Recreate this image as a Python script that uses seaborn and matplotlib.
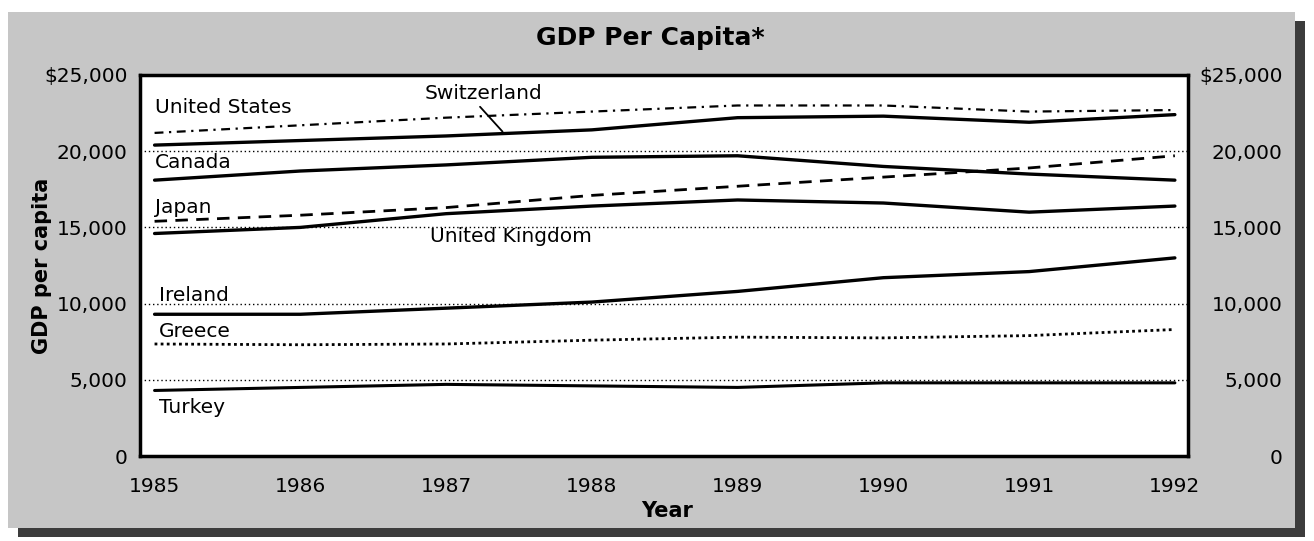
import seaborn as sns
import matplotlib.pyplot as plt
import pandas as pd
from matplotlib.patches import Rectangle

sns.set_theme(style="white")
plt.rcParams['font.family'] = ['DejaVu Sans']
plt.rcParams['text.color'] = 'black'
plt.rcParams['axes.labelcolor'] = 'black'
plt.rcParams['xtick.color'] = 'black'
plt.rcParams['ytick.color'] = 'black'

years = [1985, 1986, 1987, 1988, 1989, 1990, 1991, 1992]
united_states = [21200, 21700, 22200, 22600, 23000, 23000, 22600, 22700]
switzerland = [20400, 20700, 21000, 21400, 22200, 22300, 21900, 22400]
canada = [18100, 18700, 19100, 19600, 19700, 19000, 18500, 18100]
japan = [15400, 15800, 16300, 17100, 17700, 18300, 18900, 19700]
united_kingdom = [14600, 15000, 15900, 16400, 16800, 16600, 16000, 16400]
ireland = [9300, 9300, 9700, 10100, 10800, 11700, 12100, 13000]
greece = [7350, 7300, 7350, 7600, 7800, 7750, 7900, 8300]
turkey = [4300, 4500, 4700, 4600, 4500, 4800, 4800, 4800]

y_ticks = [0, 5000, 10000, 15000, 20000, 25000]
y_tick_labels = ["0", "5,000", "10,000", "15,000", "20,000", "$25,000"]

series = {
    "United States": united_states,
    "Switzerland": switzerland,
    "Canada": canada,
    "Japan": japan,
    "United Kingdom": united_kingdom,
    "Ireland": ireland,
    "Greece": greece,
    "Turkey": turkey,
}
df = pd.concat([pd.DataFrame({"year": years, "gdp": v, "country": k})
                for k, v in series.items()])

dashes = {"United States": (4, 2.5, 1, 2.5), "Switzerland": "", "Canada": "",
          "Japan": (4.5, 3), "United Kingdom": "", "Ireland": "",
          "Greece": (1, 1.2), "Turkey": ""}
sizes = {"United States": 1.6, "Switzerland": 2.4, "Canada": 2.4, "Japan": 2.0,
         "United Kingdom": 2.4, "Ireland": 2.4, "Greece": 2.0, "Turkey": 2.2}

fig = plt.figure(figsize=(13.14, 5.41), dpi=100)
fig.patch.set_facecolor("white")

# halftone panel + drop shadow
fig.add_artist(Rectangle((18/1314, 1-537/541), 1287/1314, 516/541,
                         transform=fig.transFigure, facecolor="#3c3c3c",
                         edgecolor="none", zorder=-2))
fig.add_artist(Rectangle((8/1314, 1-528/541), 1287/1314, 516/541,
                         transform=fig.transFigure, facecolor="#c6c6c6",
                         edgecolor="none", zorder=-1))

ax = fig.add_axes([140/1314, 85/541, 1048/1314, 381/541])
ax.set_facecolor("white")

sns.lineplot(data=df, x="year", y="gdp", hue="country", style="country",
             size="country", palette={k: "black" for k in series},
             dashes=dashes, sizes=sizes, legend=False, ax=ax)

for v in [5000, 10000, 15000, 20000]:
    ax.axhline(v, color="black", linestyle=(0, (1, 2)), linewidth=1, zorder=0)

ax.set_xlim(1984.9, 1992.09)
ax.set_ylim(0, 25000)
ax.set_yticks(y_ticks)
ax.set_yticklabels(y_tick_labels, fontsize=14.5)
ax.set_xticks(years)
ax.set_xticklabels([str(y) for y in years], fontsize=14.5)
ax.tick_params(axis="both", length=0)
ax.tick_params(axis="y", pad=9)
ax.tick_params(axis="x", pad=15)
for s in ax.spines.values():
    s.set_linewidth(2.5)
    s.set_color("black")

ax2 = ax.twinx()
ax2.set_ylim(0, 25000)
ax2.set_yticks(y_ticks)
ax2.set_yticklabels(y_tick_labels, fontsize=14.5, ha="right")
ax2.tick_params(axis="y", length=0, pad=68)
for s in ax2.spines.values():
    s.set_visible(False)

ax.set_xlabel("Year", fontsize=15, fontweight="bold")
ax.xaxis.set_label_coords(0.503, -0.118)
ax.set_ylabel("GDP per capita", fontsize=15, fontweight="bold")
ax.yaxis.set_label_coords(-0.084, 0.5)

fig.text(650/1314, 1-38/541, "GDP Per Capita*", fontsize=18, fontweight="bold",
         ha="center", va="center")

lab = dict(fontsize=14.5, va="center", ha="left")
ax.text(1985.0, 22900, "United States", **lab)
ax.text(1986.85, 23800, "Switzerland", **lab)
ax.text(1985.0, 19250, "Canada", **lab)
ax.text(1985.0, 16300, "Japan", **lab)
ax.text(1986.89, 14400, "United Kingdom", **lab)
ax.text(1985.03, 10500, "Ireland", **lab)
ax.text(1985.03, 8200, "Greece", **lab)
ax.text(1985.03, 3200, "Turkey", **lab)
ax.annotate("", xy=(1987.4, 21150), xytext=(1987.22, 23050),
            arrowprops=dict(arrowstyle="-", color="black", lw=1.3))

fig.savefig("out.png", dpi=100)
